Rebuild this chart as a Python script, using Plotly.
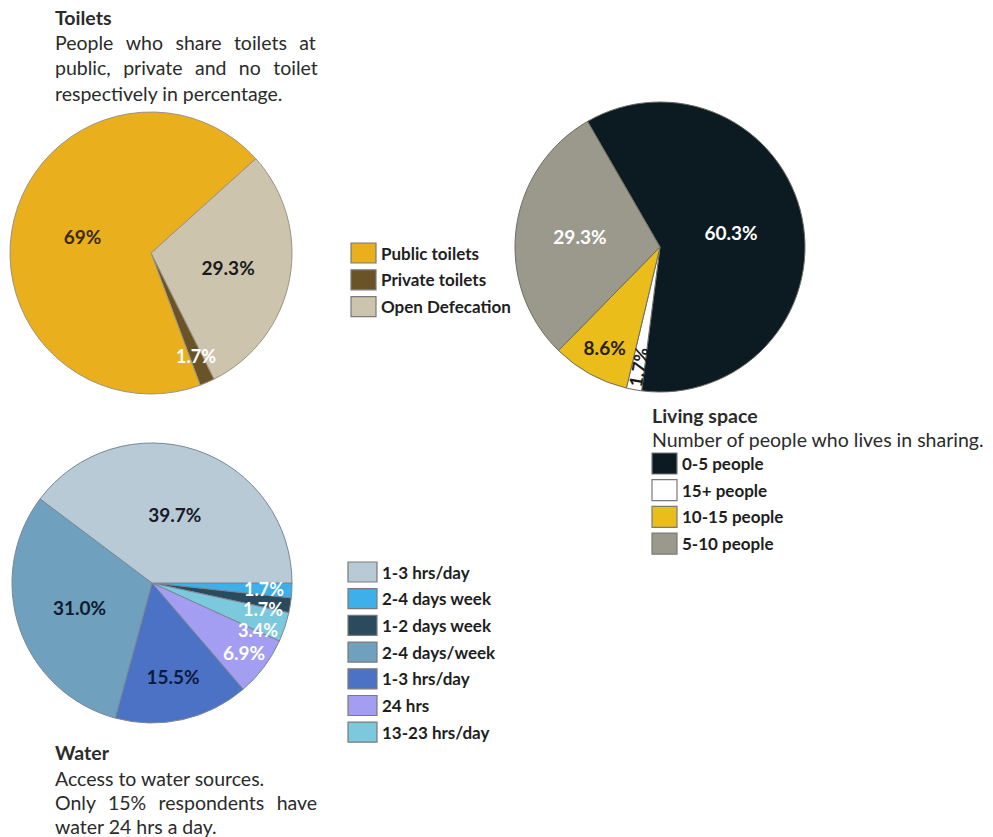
import math
import plotly.graph_objects as go

W, H = 993, 837
FONT = "Lato"
NB = "\u00a0"

# ---------------- data ----------------
toilet_labels = ["Open Defecation", "Private toilets", "Public toilets"]
toilet_values = [29.3, 1.7, 69.0]
toilet_text = ["29.3%", "1.7%", "69%"]
toilet_colors = ["#CCC4AC", "#6A5427", "#E9AF1C"]
toilet_textcolors = ["#1a1a1a", "#ffffff", "#3a2a10"]
toilet_legend = ["Public toilets", "Private toilets", "Open Defecation"]
toilet_legend_colors = ["#E9AF1C", "#6A5427", "#CCC4AC"]

living_labels = ["0-5 people", "15+ people", "10-15 people", "5-10 people"]
living_values = [60.3, 1.7, 8.6, 29.3]
living_text = ["60.3%", "1.7%", "8.6%", "29.3%"]
living_colors = ["#0C1B22", "#FFFFFF", "#EABD1B", "#9B998B"]
living_textcolors = ["#ffffff", "#1a1a1a", "#2a2010", "#ffffff"]

water_labels = ["2-4 days week", "1-2 days week", "13-23 hrs/day", "24 hrs",
                "1-3 hrs/day (b)", "2-4 days/week", "1-3 hrs/day (a)"]
water_values = [1.7, 1.7, 3.4, 6.9, 15.5, 31.0, 39.7]
water_text = ["1.7%", "1.7%", "3.4%", "6.9%", "15.5%", "31.0%", "39.7%"]
water_colors = ["#3DB0EA", "#2B4A5E", "#7CC8DD", "#A39EF2", "#4C72C5", "#6FA0BE", "#B7CAD6"]
water_textcolors = ["#ffffff", "#ffffff", "#ffffff", "#ffffff", "#0d1a40", "#0d1a30", "#1a1a2a"]
water_legend = ["1-3 hrs/day", "2-4 days week", "1-2 days week", "2-4 days/week",
                "1-3 hrs/day", "24 hrs", "13-23 hrs/day"]
water_legend_colors = ["#B7CAD6", "#3DB0EA", "#2B4A5E", "#6FA0BE", "#4C72C5", "#A39EF2", "#7CC8DD"]

# ---------------- layout / style ----------------
TOILET_GEOM = dict(cx=151, cy=253, r=141, rot=48)
LIVING_GEOM = dict(cx=660, cy=247, r=145, rot=330)
WATER_GEOM = dict(cx=152, cy=583, r=140, rot=90)
LABEL_SIZE = 19
SMALL_LABEL_SIZE = 18


def px(x):
    return x / W


def py(y):
    return 1 - y / H


def dom(g):
    cx, cy, r = g["cx"], g["cy"], g["r"]
    return dict(x=[px(cx - r), px(cx + r)], y=[py(cy + r), py(cy - r)])


annotations = []
shapes = []


def small_labels(values, texts, colors, g, nudges, frac=0.8, radial=False):
    """Labels for thin slices, placed on the slice bisector (clockwise from rotation)."""
    total = sum(values)
    start = g["rot"]
    positions = []
    k = 0
    for v, t, c in zip(values, texts, colors):
        span = 360.0 * v / total
        mid_deg = start + span / 2
        mid = math.radians(mid_deg)
        start += span
        if v / total * 100 < 4:
            dy = nudges[k] if k < len(nudges) else 0
            k += 1
            x = g["cx"] + frac * g["r"] * math.sin(mid)
            y = g["cy"] - frac * g["r"] * math.cos(mid) + dy
            ann = dict(
                x=px(x), y=py(y), xref="paper", yref="paper", text=t, showarrow=False,
                xanchor="center", yanchor="middle",
                font=dict(family=FONT, size=SMALL_LABEL_SIZE, color=c, weight="bold"))
            if radial:
                ann["textangle"] = (mid_deg % 360) - 270
            annotations.append(ann)
            positions.append("none")
        else:
            positions.append("inside")
    return positions


toilet_pos = small_labels(toilet_values, toilet_text, toilet_textcolors, TOILET_GEOM, [0])
living_pos = small_labels(living_values, living_text, living_textcolors, LIVING_GEOM, [0],
                          frac=0.84, radial=True)
water_pos = small_labels(water_values, water_text, water_textcolors, WATER_GEOM, [0, 8, 12])

fig = go.Figure()

fig.add_trace(go.Pie(
    labels=toilet_labels, values=toilet_values, text=toilet_text,
    textinfo="text", sort=False, direction="clockwise", rotation=TOILET_GEOM["rot"],
    marker=dict(colors=toilet_colors, line=dict(color="#9a9384", width=1)),
    textposition=toilet_pos, insidetextorientation="horizontal",
    textfont=dict(family=FONT, size=LABEL_SIZE, color=toilet_textcolors, weight="bold"),
    domain=dom(TOILET_GEOM), showlegend=False, hoverinfo="label+text",
))

fig.add_trace(go.Pie(
    labels=living_labels, values=living_values, text=living_text,
    textinfo="text", sort=False, direction="clockwise", rotation=LIVING_GEOM["rot"],
    marker=dict(colors=living_colors, line=dict(color="#6d6c62", width=1)),
    textposition=living_pos, insidetextorientation="horizontal",
    textfont=dict(family=FONT, size=LABEL_SIZE, color=living_textcolors, weight="bold"),
    domain=dom(LIVING_GEOM), showlegend=False, hoverinfo="label+text",
))

fig.add_trace(go.Pie(
    labels=water_labels, values=water_values, text=water_text,
    textinfo="text", sort=False, direction="clockwise", rotation=WATER_GEOM["rot"],
    marker=dict(colors=water_colors, line=dict(color="#7b8794", width=1)),
    textposition=water_pos, insidetextorientation="horizontal",
    textfont=dict(family=FONT, size=LABEL_SIZE, color=water_textcolors, weight="bold"),
    domain=dom(WATER_GEOM), showlegend=False, hoverinfo="label+text",
))


def txt(x, y, s, size=19.5, bold=False, color="#2b2b2b"):
    annotations.append(dict(
        x=px(x), y=py(y), xref="paper", yref="paper", text=s, showarrow=False,
        xanchor="left", yanchor="middle",
        font=dict(family=FONT, size=size, color=color, weight="bold" if bold else "normal"),
    ))


def legend(x0, y0, labels, colors, w=25, h=20, step=26.8, size=17):
    for i, (lab, col) in enumerate(zip(labels, colors)):
        yy = y0 + i * step
        shapes.append(dict(type="rect", xref="paper", yref="paper",
                           x0=px(x0), x1=px(x0 + w), y0=py(yy + h), y1=py(yy),
                           fillcolor=col, line=dict(color="#7a7a7a", width=1.2)))
        txt(x0 + w + 3, yy + h / 2, lab, size=size, bold=True, color="#1e1e1e")


GAP = NB * 2 + "\u2009"
# Toilets text
txt(53, 17, "Toilets", bold=True)
txt(53, 43, GAP.join(["People", "who", "share", "toilets", "at"]))
txt(53, 68, GAP.join(["public,", "private", "and", "no", "toilet"]))
txt(53, 93, "respectively in percentage.")

legend(351, 243, toilet_legend, toilet_legend_colors)

# Living text
txt(650, 415, "Living space", bold=True)
txt(650, 439, "Number of people who lives in sharing.")
legend(652, 453, living_labels, living_colors, w=25, h=21, step=26.7)

# Water text
legend(348, 562, water_legend, water_legend_colors, w=29, h=20, step=26.7)
txt(53, 752, "Water", bold=True)
txt(53, 778, "Access to water sources.")
txt(53, 802, GAP.join(["Only", "15%", "respondents", "have"]))
txt(53, 826, "water 24 hrs a day.")

fig.update_layout(
    width=W, height=H, margin=dict(l=0, r=0, t=0, b=0),
    paper_bgcolor="white", plot_bgcolor="white",
    annotations=annotations, shapes=shapes,
    uniformtext=dict(minsize=LABEL_SIZE - 2, mode="show"),
    font=dict(family=FONT),
)

fig.write_html("out.html", config={"displayModeBar": False},
               post_script="document.body.style.margin='0px';")
